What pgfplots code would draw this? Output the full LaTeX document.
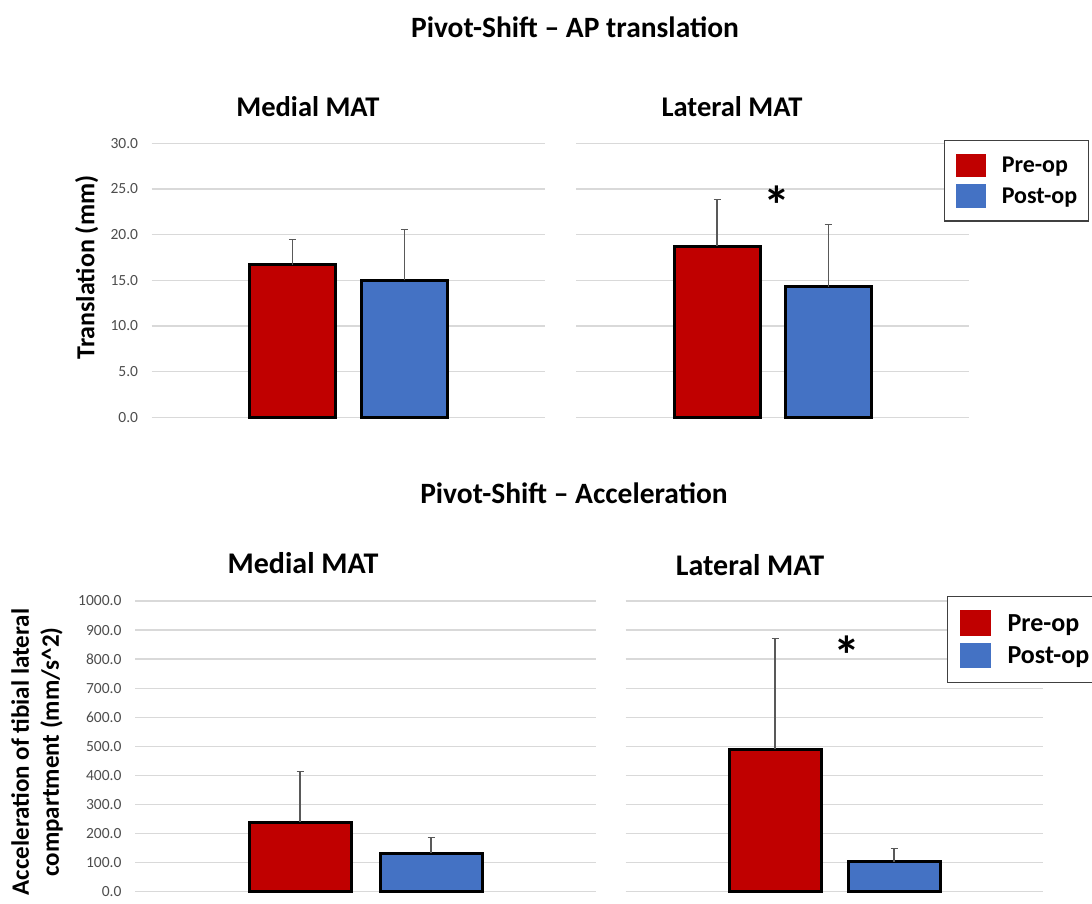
\documentclass[border=0pt]{standalone}
\usepackage{pgfplots}
\pgfplotsset{compat=1.18}
\usepackage{fontspec}
\setmainfont{Carlito}
\definecolor{redc}{HTML}{C00000}
\definecolor{bluec}{HTML}{4472C4}
\definecolor{gridgray}{HTML}{D9D9D9}
\definecolor{tickgray}{HTML}{4D4D4D}
\definecolor{errgray}{HTML}{595959}
\definecolor{legframe}{HTML}{404040}
\pgfplotsset{
  panel/.style={
    scale only axis, ybar, clip=false,
    axis line style={draw=none}, major tick length=0pt,
    xtick=\empty, xmin=-0.5, xmax=0.5, ymin=0,
    ymajorgrids, grid style={draw=gridgray, line width=1.3pt},
    yticklabel style={font=\fontsize{15.5}{18}\selectfont, text=tickgray, inner sep=0pt, xshift=-13.4pt,
       /pgf/number format/.cd, fixed, fixed zerofill, precision=1, 1000 sep={}, assume math mode=true},
  },
  bars/.style={draw=black, line width=3pt,
     error bars/y dir=plus, error bars/y explicit,
     error bars/error bar style={draw=errgray, line width=1.2pt},
     error bars/error mark options={rotate=90, mark size=3.5pt, draw=errgray, line width=1.2pt}},
}
\begin{document}
\begin{tikzpicture}
\useasboundingbox (0pt,0pt) rectangle (1092pt,904pt);
% ---------- top medial
\begin{axis}[panel, at={(151.7pt,486.7pt)}, anchor=south west, width=393.3pt, height=274pt,
  ymax=30, ytick={0,5,10,15,20,25,30}, bar width=86pt]
\addplot[bars, fill=redc, bar shift=-55.9pt] coordinates {(0,16.7) +- (0,2.8)};
\addplot[bars, fill=bluec, bar shift=55.9pt] coordinates {(0,15.0) +- (0,5.6)};
\end{axis}
% ---------- top lateral
\begin{axis}[panel, at={(576.3pt,486.7pt)}, anchor=south west, width=392.6pt, height=274pt,
  ymax=30, ytick={0,5,10,15,20,25,30}, yticklabels={}, bar width=86pt,
  legend cell align=left,
  legend style={at={(0.9366,1.012)}, anchor=north west, draw=legframe, line width=1.3pt, fill=white,
    inner xsep=11.5pt, inner ysep=13pt, row sep=7pt,
    font=\bfseries\fontsize{24}{24}\selectfont,
    nodes={inner sep=0pt, text height=15pt, text depth=0pt},
    /tikz/every odd column/.append style={column sep=16pt}}]
\addplot[bars, fill=redc, bar shift=-55.6pt,
  legend image code/.code={\fill[redc] (0pt,-10.3pt) rectangle (26.6pt,10.3pt);}]
  coordinates {(0,18.7) +- (0,5.15)};
\addlegendentry{Pre-op}
\addplot[bars, fill=bluec, bar shift=55.6pt,
  legend image code/.code={\fill[bluec] (0pt,-10.3pt) rectangle (26.6pt,10.3pt);}]
  coordinates {(0,14.3) +- (0,6.8)};
\addlegendentry{Post-op}
\node[font=\bfseries\fontsize{54}{54}\selectfont] at (axis cs:0.01,23.2) {*};
\end{axis}
% ---------- bottom medial
\begin{axis}[panel, at={(135pt,12.3pt)}, anchor=south west, width=461pt, height=290.7pt,
  ymax=1000, ytick={0,100,200,300,400,500,600,700,800,900,1000}, bar width=102pt]
\addplot[bars, fill=redc, bar shift=-65.5pt] coordinates {(0,239) +- (0,175)};
\addplot[bars, fill=bluec, bar shift=65.5pt] coordinates {(0,132) +- (0,54)};
\end{axis}
% ---------- bottom lateral
\begin{axis}[panel, at={(625.7pt,12.3pt)}, anchor=south west, width=417.6pt, height=290.7pt,
  ymax=1000, ytick={0,100,200,300,400,500,600,700,800,900,1000}, yticklabels={}, bar width=92pt,
  legend cell align=left,
  legend style={at={(0.7687,1.0182)}, anchor=north west, draw=legframe, line width=1.3pt, fill=white,
    inner xsep=12.5pt, inner ysep=14pt, row sep=7.3pt,
    font=\bfseries\fontsize{26}{26}\selectfont,
    nodes={inner sep=0pt, text height=16pt, text depth=0pt},
    /tikz/every odd column/.append style={column sep=16.3pt}}]
\addplot[bars, fill=redc, bar shift=-59.5pt,
  legend image code/.code={\fill[redc] (0pt,-11.2pt) rectangle (28.4pt,11.2pt);}]
  coordinates {(0,490) +- (0,382)};
\addlegendentry{Pre-op}
\addplot[bars, fill=bluec, bar shift=59.5pt,
  legend image code/.code={\fill[bluec] (0pt,-11.2pt) rectangle (28.4pt,11.2pt);}]
  coordinates {(0,103) +- (0,45)};
\addlegendentry{Post-op}
\node[font=\bfseries\fontsize{54}{54}\selectfont] at (axis cs:0.029,815) {*};
\end{axis}
% ---------- titles and labels
\node[font=\bfseries\fontsize{29.5}{34}\selectfont] at (575pt,877pt) {Pivot-Shift -- AP translation};
\node[font=\bfseries\fontsize{28.5}{34}\selectfont] at (308pt,797pt) {Medial MAT};
\node[font=\bfseries\fontsize{28.5}{34}\selectfont] at (732pt,797pt) {Lateral MAT};
\node[font=\bfseries\fontsize{29.5}{34}\selectfont] at (574pt,411pt) {Pivot-Shift -- Acceleration};
\node[font=\bfseries\fontsize{30}{34}\selectfont] at (303pt,341pt) {Medial MAT};
\node[font=\bfseries\fontsize{30}{34}\selectfont] at (750pt,339pt) {Lateral MAT};
\node[rotate=90, font=\bfseries\fontsize{26}{30}\selectfont] at (86.7pt,636.5pt) {Translation (mm)};
\node[rotate=90, align=center, font=\bfseries\fontsize{25}{30}\selectfont] at (37pt,152pt)
  {Acceleration of tibial lateral\\compartment (mm/s\textasciicircum 2)};
\end{tikzpicture}
\end{document}
